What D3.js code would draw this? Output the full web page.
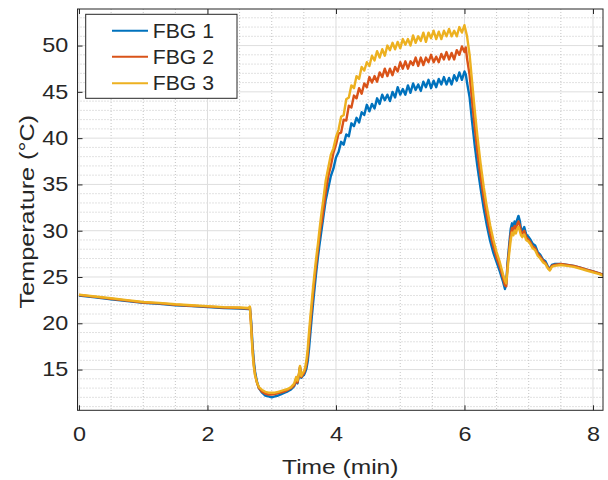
<!DOCTYPE html>
<html><head><meta charset="utf-8">
<script src="https://cdn.jsdelivr.net/npm/d3@7"></script>
<style>
body{margin:0;background:#fff}
svg{display:block}
text{font-family:"Liberation Sans",Arial,Helvetica,sans-serif;fill:#262626}
</style>
</head><body>
<svg id="c" width="608" height="480"></svg>
<script>
// ---- data ----
const time = [
  0, 0.25, 0.5, 0.75, 1.0, 1.25, 1.5, 1.75, 2.0, 2.25, 2.5, 2.64,
  2.66, 2.68, 2.70, 2.72, 2.74, 2.77, 2.80, 2.85, 2.90, 2.95, 3.00, 3.05, 3.10, 3.15, 3.20, 3.25, 3.30, 3.35, 3.38, 3.40, 3.42, 3.44, 3.46, 3.48, 3.50, 3.52, 3.54,
  3.56, 3.58, 3.60, 3.62, 3.64, 3.66, 3.68, 3.70, 3.72, 3.74, 3.76, 3.78, 3.80,
  3.84, 3.88, 3.92, 3.96, 4.00, 4.04, 4.08, 4.12, 4.16, 4.20, 4.24, 4.28, 4.32, 4.36, 4.40, 4.44, 4.48, 4.52, 4.56, 4.60, 4.64, 4.68, 4.72, 4.76, 4.80, 4.84, 4.88, 4.92, 4.96, 5.00, 5.04, 5.08, 5.12, 5.16, 5.20, 5.24, 5.28, 5.32, 5.36, 5.40, 5.44, 5.48, 5.52, 5.56, 5.60, 5.64, 5.68, 5.72, 5.76, 5.80, 5.84, 5.88, 5.92, 5.96, 6.00, 6.02,
  6.04, 6.08, 6.12, 6.16, 6.20, 6.25, 6.30, 6.35, 6.40, 6.45, 6.50, 6.55, 6.60, 6.63, 6.65,
  6.67, 6.70, 6.72, 6.74, 6.76, 6.78, 6.80, 6.82, 6.84, 6.86, 6.88, 6.90, 6.93, 6.96, 7.00, 7.03, 7.06, 7.10, 7.14, 7.18, 7.22, 7.26, 7.30, 7.33, 7.36, 7.40, 7.50, 7.60, 7.70, 7.80, 7.90, 8.00, 8.10, 8.20
];
const fbg1 = [
  23.0, 22.8, 22.6, 22.4, 22.2, 22.1, 21.95, 21.85, 21.75, 21.65, 21.6, 21.55,
  21.7, 20.2, 17.8, 16.0, 14.8, 13.7, 13.0, 12.5, 12.2, 12.1, 12.0, 12.1, 12.2, 12.35, 12.5, 12.65, 12.85, 13.2, 13.9, 13.5, 14.2, 15.2, 14.1, 14.3, 14.4, 14.7, 15.1,
  15.9, 17.2, 18.8, 20.4, 21.9, 23.3, 24.7, 26.0, 27.2, 28.3, 29.3, 30.3, 31.3,
  33.3, 34.6, 35.9, 36.7, 37.9, 38.5, 39.6, 39.3, 40.4, 40.2, 41.6, 41.3, 42.2, 41.7, 42.8, 42.5, 43.6, 42.9, 43.7, 43.2, 44.3, 43.7, 44.7, 44.1, 44.7, 44.0, 45.0, 44.4, 45.5, 44.7, 45.3, 44.7, 45.7, 44.9, 45.9, 45.2, 45.8, 45.1, 46.1, 45.5, 46.3, 45.4, 46.2, 45.5, 46.4, 45.8, 46.6, 45.8, 46.5, 45.8, 46.8, 46.2, 47.1, 46.3, 47.2, 46.9,
  46.0, 44.4, 41.7, 39.2, 37.0, 34.6, 32.4, 30.5, 28.9, 27.6, 26.6, 25.6, 24.5, 23.7, 24.3,
  26.5, 28.8, 30.2, 30.8, 30.4, 31.0, 30.6, 31.2, 31.6, 31.1, 30.2, 30.0, 30.4, 29.6, 29.3, 29.0, 28.6, 28.4, 27.7, 27.4, 26.9, 26.7, 26.1, 25.9, 26.3, 26.4, 26.4, 26.3, 26.2, 26.0, 25.8, 25.6, 25.4, 25.1
];
const fbg2 = [
  23.05, 22.85, 22.65, 22.45, 22.25, 22.15, 22.0, 21.9, 21.8, 21.7, 21.65, 21.6,
  21.75, 19.8, 17.3, 15.6, 14.5, 13.6, 13.0, 12.6, 12.4, 12.3, 12.3, 12.35, 12.45, 12.55, 12.65, 12.8, 13.0, 13.3, 14.0, 13.6, 14.3, 15.3, 14.2, 14.4, 14.6, 15.0, 15.5,
  16.6, 18.2, 19.9, 21.4, 22.9, 24.3, 25.6, 26.8, 28.0, 29.2, 30.3, 31.0, 32.0,
  34.1, 35.9, 37.0, 38.4, 39.3, 40.5, 40.6, 42.0, 41.9, 43.5, 43.3, 44.6, 44.3, 45.4, 44.8, 45.9, 45.5, 46.6, 46.0, 46.7, 46.1, 47.1, 46.6, 47.5, 46.7, 47.5, 46.8, 47.7, 47.2, 48.2, 47.5, 48.3, 47.5, 48.3, 47.9, 48.7, 47.8, 48.7, 47.9, 48.7, 48.2, 49.0, 48.2, 48.8, 48.2, 49.1, 48.5, 49.3, 48.5, 49.2, 48.5, 49.5, 49.0, 49.9, 49.3, 49.8,
  48.6, 46.8, 43.9, 41.1, 38.6, 35.9, 33.5, 31.5, 29.7, 28.3, 27.1, 26.1, 24.9, 24.1, 24.0,
  26.2, 28.3, 29.6, 30.3, 30.0, 30.5, 30.2, 30.7, 31.0, 30.6, 29.9, 29.7, 30.0, 29.3, 29.0, 28.7, 28.3, 28.1, 27.5, 27.2, 26.8, 26.5, 26.0, 25.8, 26.2, 26.3, 26.4, 26.3, 26.2, 26.0, 25.8, 25.6, 25.4, 25.1
];
const fbg3 = [
  23.1, 22.9, 22.7, 22.5, 22.3, 22.2, 22.05, 21.95, 21.85, 21.75, 21.7, 21.65,
  21.8, 19.5, 17.0, 15.4, 14.4, 13.6, 13.1, 12.8, 12.6, 12.5, 12.5, 12.5, 12.6, 12.7, 12.8, 12.9, 13.1, 13.5, 14.2, 13.8, 14.4, 15.4, 14.3, 14.6, 14.8, 15.2, 16.0,
  17.2, 19.0, 20.6, 22.1, 23.6, 25.0, 26.3, 27.5, 28.6, 29.9, 31.1, 32.2, 33.2,
  35.4, 36.8, 38.2, 38.9, 40.1, 40.9, 42.3, 42.5, 44.2, 44.4, 45.7, 45.4, 46.7, 46.4, 47.7, 47.3, 48.2, 47.8, 48.9, 48.4, 49.4, 48.7, 49.6, 48.9, 50.0, 49.5, 50.3, 49.6, 50.4, 49.7, 50.7, 50.1, 50.7, 50.0, 51.1, 50.3, 51.0, 50.5, 51.4, 50.4, 51.4, 50.8, 51.6, 50.7, 51.5, 50.7, 51.6, 51.0, 51.8, 51.0, 51.6, 51.0, 52.0, 51.4, 52.2, 51.6,
  51.0, 49.0, 46.0, 43.0, 40.3, 37.3, 34.7, 32.5, 30.6, 29.0, 27.7, 26.6, 25.3, 24.6, 24.3,
  25.8, 27.8, 29.0, 29.8, 29.5, 30.0, 29.7, 30.2, 30.4, 30.0, 29.5, 29.3, 29.6, 29.0, 28.8, 28.5, 28.1, 27.9, 27.3, 27.0, 26.6, 26.4, 25.9, 25.7, 26.1, 26.2, 26.3, 26.2, 26.1, 25.9, 25.7, 25.5, 25.3, 25.0
];
const seriesNames = ["FBG 1", "FBG 2", "FBG 3"];
const seriesColors = ["#0072BD", "#D95319", "#EDB120"];
const xTicks = [0, 2, 4, 6, 8];
const yTicks = [15, 20, 25, 30, 35, 40, 45, 50];
const xLabel = "Time (min)";
const yLabel = "Temperature (°C)";

// ---- layout ----
const L = 77.5, R = 603, T = 9, B = 410.3;
const svg = d3.select("#c");
const x = d3.scaleLinear().domain([-0.023, 8.156]).range([L, R]);
const y = d3.scaleLinear().domain([10.6, 53.95]).range([B, T]);
const SX = 1.17;

// minor grid
const xMinor = d3.range(0.5, 8.16, 0.5).filter(v => Math.abs(v % 2) > 1e-6);
const yMinor = d3.range(11, 54, 1).filter(v => v % 5 !== 0);
const grid = svg.append("g");
grid.selectAll(".xm").data(xMinor).join("line")
  .attr("x1", d => x(d)).attr("x2", d => x(d)).attr("y1", T).attr("y2", B)
  .attr("stroke", "#c4c4c4").attr("stroke-width", 1).attr("stroke-dasharray", "1,2");
grid.selectAll(".ym").data(yMinor).join("line")
  .attr("y1", d => y(d)).attr("y2", d => y(d)).attr("x1", L).attr("x2", R)
  .attr("stroke", "#c4c4c4").attr("stroke-width", 1).attr("stroke-dasharray", "1,2");
grid.selectAll(".xM").data(xTicks).join("line")
  .attr("x1", d => x(d)).attr("x2", d => x(d)).attr("y1", T).attr("y2", B)
  .attr("stroke", "#dedede").attr("stroke-width", 1);
grid.selectAll(".yM").data(yTicks).join("line")
  .attr("y1", d => y(d)).attr("y2", d => y(d)).attr("x1", L).attr("x2", R)
  .attr("stroke", "#dedede").attr("stroke-width", 1);

// lines
svg.append("clipPath").attr("id", "clip").append("rect")
  .attr("x", L).attr("y", T).attr("width", R - L).attr("height", B - T);
const series = [fbg1, fbg2, fbg3];
const line = d3.line().x((d, i) => x(time[i])).y(d => y(d));
const lg = svg.append("g").attr("clip-path", "url(#clip)");
series.forEach((s, k) => {
  lg.append("path").datum(s).attr("d", line)
    .attr("fill", "none").attr("stroke", seriesColors[k])
    .attr("stroke-width", 2.4).attr("stroke-linejoin", "round");
});

// axes
function styleAxis(g) {
  g.select(".domain").remove();
  g.selectAll(".tick line").attr("stroke", "#262626");
  g.selectAll("text").attr("fill", "#262626").attr("font-size", 20)
    .attr("font-family", '"Liberation Sans",Arial,sans-serif');
}
const ax = svg.append("g").attr("transform", `translate(0,${B})`)
  .call(d3.axisBottom(x).tickValues(xTicks).tickFormat(d3.format("d"))
    .tickSizeInner(-5).tickSizeOuter(0).tickPadding(16.5));
styleAxis(ax);
ax.selectAll("text").attr("transform", `scale(${SX},1)`);
const ay = svg.append("g").attr("transform", `translate(${L},0)`)
  .call(d3.axisLeft(y).tickValues(yTicks).tickFormat(d3.format("d"))
    .tickSizeInner(-5).tickSizeOuter(0).tickPadding(7.9));
styleAxis(ay);
ay.selectAll("text").attr("transform", `scale(${SX},1)`);
const at = svg.append("g").attr("transform", `translate(0,${T})`)
  .call(d3.axisTop(x).tickValues(xTicks).tickFormat("").tickSizeInner(-5).tickSizeOuter(0));
styleAxis(at);
const ar = svg.append("g").attr("transform", `translate(${R},0)`)
  .call(d3.axisRight(y).tickValues(yTicks).tickFormat("").tickSizeInner(-5).tickSizeOuter(0));
styleAxis(ar);

svg.append("rect").attr("x", L).attr("y", T).attr("width", R - L).attr("height", B - T)
  .attr("fill", "none").attr("stroke", "#262626").attr("stroke-width", 1);

// axis labels
svg.append("text").attr("transform", `translate(${(L + R) / 2},474) scale(${SX},1)`)
  .attr("text-anchor", "middle").attr("font-size", 21).text(xLabel);
svg.append("text").attr("transform", `translate(33.5,${(T + B) / 2 + 2}) rotate(-90) scale(1.2,1)`)
  .attr("text-anchor", "middle").attr("font-size", 21).text(yLabel);

// legend
const leg = svg.append("g");
leg.append("rect").attr("x", 85.7).attr("y", 14.3).attr("width", 151.3).attr("height", 84)
  .attr("fill", "#fff").attr("stroke", "#262626").attr("stroke-width", 1);
const rowY = [30.7, 56.7, 83.3];
seriesNames.forEach((n, k) => {
  leg.append("line").attr("x1", 112).attr("x2", 148).attr("y1", rowY[k]).attr("y2", rowY[k])
    .attr("stroke", seriesColors[k]).attr("stroke-width", 2);
  leg.append("text").attr("transform", `translate(152.7,${rowY[k] + 7}) scale(1.06,1)`)
    .attr("font-size", 20).text(n);
});
</script>
</body></html>
